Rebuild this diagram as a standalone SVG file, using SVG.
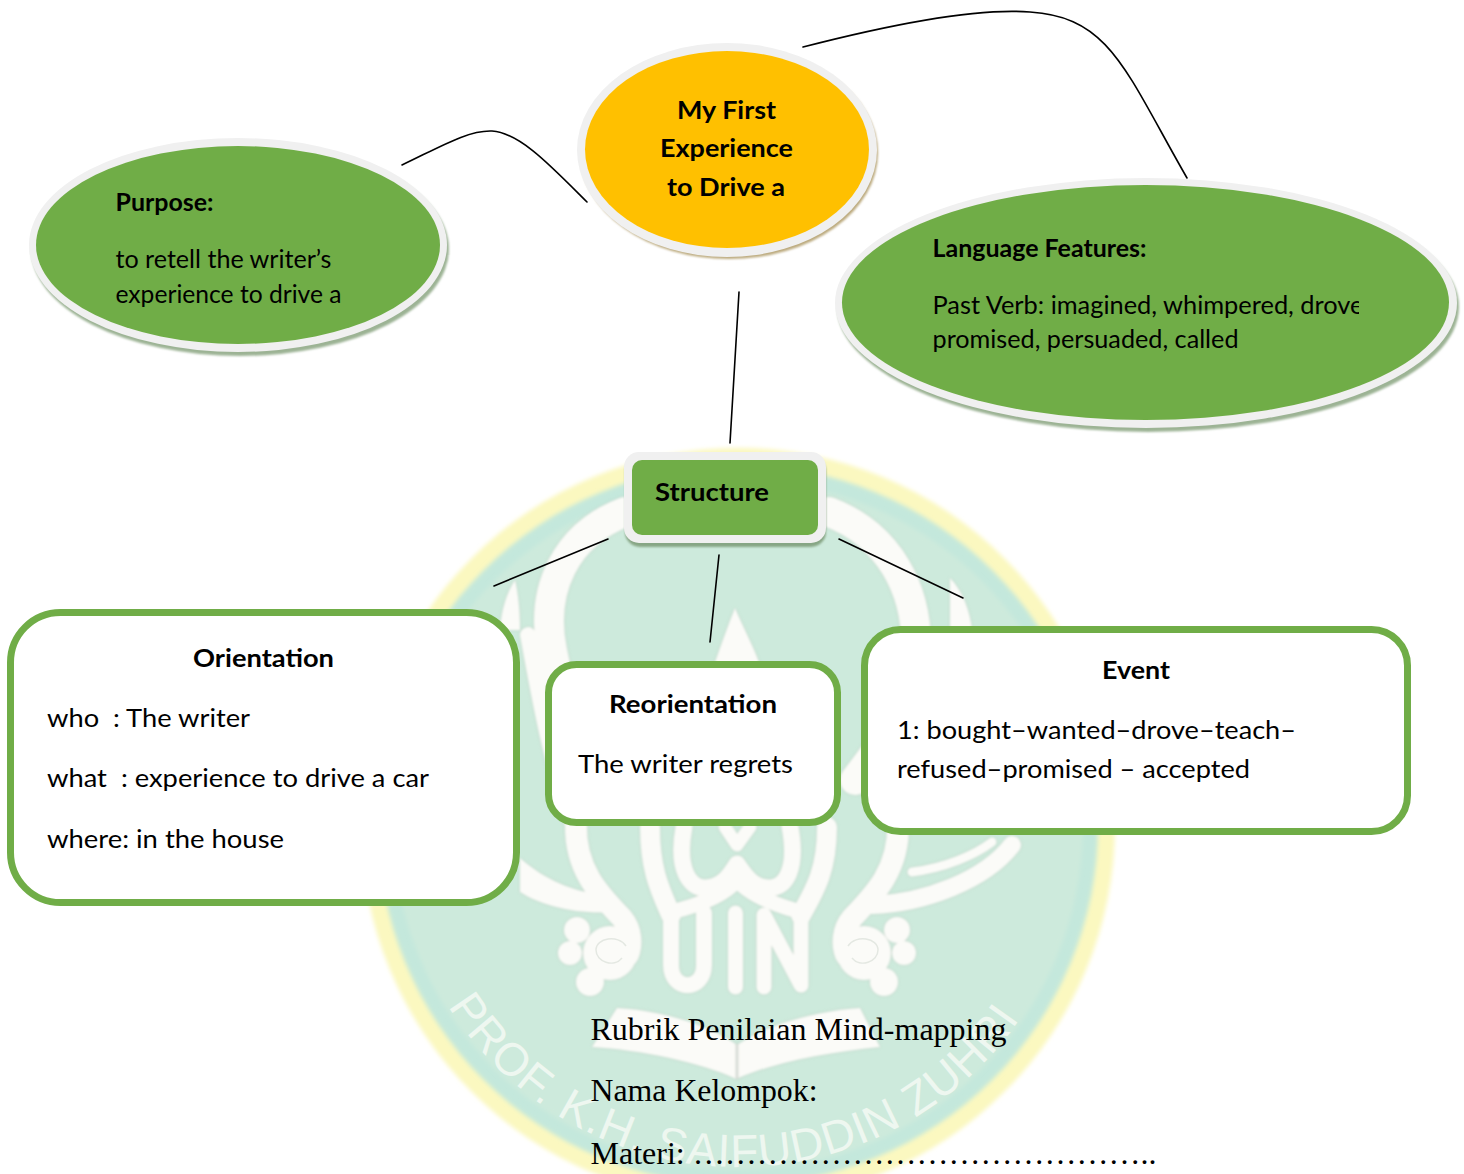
<svg xmlns="http://www.w3.org/2000/svg" width="1464" height="1174" viewBox="0 0 1464 1174">
<style>
text{fill:#000;font-family:Lato,"Open Sans",sans-serif;font-size:24.5px}
.b{font-weight:700}
.s{font-family:"Liberation Serif",serif;font-size:32px}
.halo{fill:#f0f0f0}
.green{fill:#70ad47}
.box{fill:#fff;stroke:#70ad47;stroke-width:7}
.c{fill:none;stroke:#000;stroke-width:1.6;stroke-linecap:round}
.band{fill:none;stroke:#fbfbf8;stroke-linecap:round;stroke-linejoin:round}
.w{fill:#fbfbf8}
.sh{filter:url(#shadow)}
</style>
<defs>
<filter id="soft" x="-10%" y="-10%" width="120%" height="120%"><feGaussianBlur stdDeviation="2"/></filter>
<filter id="shadow" x="-5%" y="-5%" width="110%" height="110%"><feGaussianBlur stdDeviation="1.200"/></filter>
<filter id="edge" x="-5%" y="-5%" width="110%" height="110%"><feDropShadow dx="0" dy="0" stdDeviation="1.200" flood-color="#b5c4b8"/><feGaussianBlur stdDeviation="0.800"/></filter>
<clipPath id="drove"><rect x="925" y="285" width="434" height="40"/></clipPath>
</defs>
<rect width="1464" height="1174" fill="#fff"/>
<g id="watermark">
<circle cx="738" cy="825" r="377" fill="#fbf8c0" filter="url(#soft)"/>
<circle cx="738" cy="825" r="360" fill="#c4e8dc" filter="url(#soft)"/>
<circle cx="738" cy="825" r="345" fill="#cdeadc" filter="url(#soft)"/>
<g filter="url(#edge)">
<path class="band" stroke-width="30" d="M625 512C565 535 540 590 552 650C562 710 590 740 620 780"/>
<path class="band" stroke-width="30" d="M829 512C889 535 918 590 916 650C912 710 885 740 855 780"/>
<path class="w" d="M515 580C507 592 501 610 500 630H520C520 610 518 592 515 580Z"/>
<path class="w" d="M950 578C962 590 970 610 972 630H950Z"/>
<path class="band" stroke-width="16" d="M528 635C540 700 550 760 575 830"/>
<path class="band" stroke-width="22" d="M576 825C575 870 600 895 622 918C632 930 632 945 628 955"/>
<path class="band" stroke-width="22" d="M898 825C899 870 874 895 852 918C842 930 842 945 846 955"/>
<circle class="w" cx="610" cy="953" r="27"/><circle class="w" cx="864" cy="953" r="27"/>
<circle class="w" cx="577" cy="930" r="13"/><circle class="w" cx="570" cy="953" r="12"/><circle class="w" cx="590" cy="982" r="14"/>
<circle class="w" cx="897" cy="930" r="13"/><circle class="w" cx="904" cy="953" r="12"/><circle class="w" cx="884" cy="982" r="14"/>
<path class="band" stroke-width="20" d="M650 827C650 870 660 890 671 915"/>
<path class="band" stroke-width="20" d="M827 827C827 870 815 890 801 915"/>
<path class="band" stroke-width="17" d="M684 827C676 870 690 888 705 888C722 888 730 875 737 864C745 875 752 888 770 888C785 888 798 870 790 827"/>
<path class="band" stroke-width="15" d="M671 912C700 905 725 895 737 880C750 895 775 905 801 912"/>
<path class="band" stroke-width="13" d="M725 827L737 845L750 827"/>
<path class="w" d="M520 858C545 880 575 892 600 894L615 912C575 915 540 905 520 892Z"/>
<path class="band" stroke-width="18" d="M872 905C925 903 985 880 1012 845"/>
<path class="band" stroke-width="9" d="M912 872C945 868 975 855 992 842"/>
<path class="w" d="M735 608C742 625 753 645 760 665H714C721 645 728 625 735 608Z"/>
<path class="band" stroke-width="16" d="M671 913V965C671 992 704 992 704 965V913"/>
<path class="band" stroke-width="15" stroke-linecap="butt" d="M735.500 913V987"/>
<path class="band" stroke-width="15" stroke-linecap="butt" d="M764 987V915L801 985V913"/>
<path class="w" d="M617 1008C655 1010 705 1022 737 1045C770 1022 825 1010 860 1008L880 1047C830 1052 775 1062 736 1079C700 1062 640 1050 592 1047Z"/>
<path fill="none" stroke="#d7dcd6" stroke-width="3" d="M737 1044V1079"/>
</g>
<g fill="none" stroke="#e4e8e2" stroke-width="1.500">
<path d="M622 958C614 968 596 962 596 950C596 938 618 934 626 946"/>
<path d="M852 958C860 968 878 962 878 950C878 938 856 934 848 946"/>
</g>
<path id="arc" fill="none" d="M448 1006A342 342 0 0 0 1075 884"/>
<text style="font-size:46px;fill:#eef7f0;font-family:'Liberation Sans',sans-serif" letter-spacing="1"><textPath href="#arc">PROF. K.H. SAIFUDDIN ZUHRI</textPath></text>
</g>
<g id="connectors">
<path class="c" d="M402 165C440 147 468 130 492 131C520 133 550 165 587 202"/>
<path class="c" d="M803 47C900 22 980 8 1030 12C1110 17 1125 70 1187 178"/>
<path class="c" d="M739 292L730 443"/>
<path class="c" d="M608 539L494 586"/>
<path class="c" d="M719 555L710 642"/>
<path class="c" d="M839 539L963 598"/>
</g>
<g id="node-main">
<ellipse class="sh" cx="729" cy="153" rx="149" ry="106" fill="#bcaa7e"/>
<ellipse class="halo" cx="727" cy="150" rx="150" ry="107"/>
<ellipse cx="727" cy="149.500" rx="142" ry="98.500" fill="#ffc000"/>
<text class="b" x="677" y="119" textLength="99" lengthAdjust="spacingAndGlyphs">My First</text>
<text class="b" x="660" y="157" textLength="133" lengthAdjust="spacingAndGlyphs">Experience</text>
<text class="b" x="667" y="196" textLength="118" lengthAdjust="spacingAndGlyphs">to Drive a</text>
</g>
<g id="node-purpose">
<ellipse class="sh" cx="240" cy="249" rx="209" ry="107" fill="#9cb394"/>
<ellipse class="halo" cx="238" cy="245" rx="209" ry="107"/>
<ellipse class="green" cx="238" cy="245" rx="202" ry="99"/>
<text class="b" x="115.500" y="211" textLength="98" lengthAdjust="spacingAndGlyphs">Purpose:</text>
<text x="115.500" y="268" textLength="216" lengthAdjust="spacingAndGlyphs">to retell the writer’s</text>
<text x="115.500" y="303" textLength="226" lengthAdjust="spacingAndGlyphs">experience to drive a</text>
</g>
<g id="node-language">
<ellipse class="sh" cx="1148" cy="307" rx="311" ry="125" fill="#9cb394"/>
<ellipse class="halo" cx="1146" cy="303" rx="311" ry="125"/>
<ellipse class="green" cx="1145.500" cy="302.500" rx="303.500" ry="117.500"/>
<text class="b" x="932.500" y="257" textLength="214" lengthAdjust="spacingAndGlyphs">Language Features:</text>
<g clip-path="url(#drove)"><text x="932.500" y="314" textLength="431" lengthAdjust="spacingAndGlyphs">Past Verb: imagined, whimpered, drove</text></g>
<text x="932.500" y="348" textLength="306" lengthAdjust="spacingAndGlyphs">promised, persuaded, called</text>
</g>
<g id="node-structure">
<rect class="sh" x="625" y="456" width="201" height="91" rx="15" fill="#87a685"/>
<rect class="halo" x="624" y="452" width="202" height="91" rx="15"/>
<rect class="green" x="632" y="460" width="186" height="75" rx="10"/>
<text class="b" x="655" y="501" textLength="114" lengthAdjust="spacingAndGlyphs">Structure</text>
</g>
<g id="node-orientation">
<rect class="box" x="10.500" y="612.500" width="506" height="290" rx="50"/>
<text class="b" x="193" y="667" textLength="141" lengthAdjust="spacingAndGlyphs">Orientation</text>
<text x="47" y="727" xml:space="preserve" textLength="203" lengthAdjust="spacingAndGlyphs">who  : The writer</text>
<text x="47" y="787" xml:space="preserve" textLength="382" lengthAdjust="spacingAndGlyphs">what  : experience to drive a car</text>
<text x="47" y="848" textLength="237" lengthAdjust="spacingAndGlyphs">where: in the house</text>
</g>
<g id="node-reorientation">
<rect class="box" x="548.500" y="664.500" width="289" height="158" rx="28"/>
<text class="b" x="609" y="713" textLength="168" lengthAdjust="spacingAndGlyphs">Reorientation</text>
<text x="578" y="773" textLength="215" lengthAdjust="spacingAndGlyphs">The writer regrets</text>
</g>
<g id="node-event">
<rect class="box" x="864.500" y="629.500" width="543" height="202" rx="36"/>
<text class="b" x="1102" y="679" textLength="68" lengthAdjust="spacingAndGlyphs">Event</text>
<text x="897" y="739" textLength="399" lengthAdjust="spacingAndGlyphs">1: bought–wanted–drove–teach–</text>
<text x="897" y="778" textLength="353" lengthAdjust="spacingAndGlyphs">refused–promised – accepted</text>
</g>
<g id="rubric">
<text class="s" x="590.500" y="1040" textLength="416" lengthAdjust="spacingAndGlyphs">Rubrik Penilaian Mind-mapping</text>
<text class="s" x="590.500" y="1101" textLength="227" lengthAdjust="spacingAndGlyphs">Nama Kelompok:</text>
<text class="s" x="590.500" y="1164" textLength="566" lengthAdjust="spacingAndGlyphs">Materi: ……………………………………..</text>
</g>
</svg>
